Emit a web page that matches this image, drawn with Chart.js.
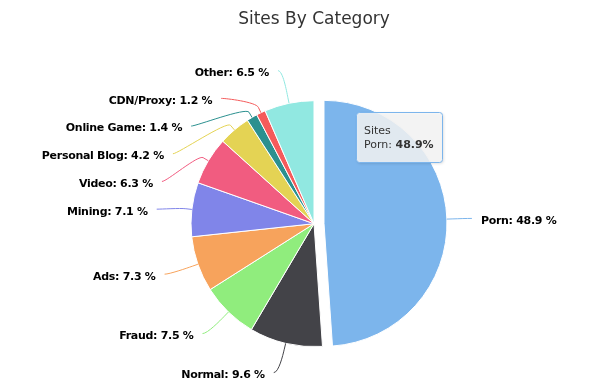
<!DOCTYPE html>
<html>
<head>
<meta charset="utf-8">
<script src="https://cdn.jsdelivr.net/npm/chart.js@4.4.1/dist/chart.umd.min.js"></script>
<style>
  html, body { margin: 0; padding: 0; background: #fff; }
  #wrap { width: 602px; height: 392px; }
</style>
</head>
<body>
<div id="wrap"><canvas id="pieChart" width="602" height="392"></canvas></div>
<script>
const categories = ['Porn', 'Normal', 'Fraud', 'Ads', 'Mining', 'Video', 'Personal Blog', 'Online Game', 'CDN/Proxy', 'Other'];
const shares = [48.9, 9.6, 7.5, 7.3, 7.1, 6.3, 4.2, 1.4, 1.2, 6.5];
const sliceColors = ['#7cb5ec', '#434348', '#90ed7d', '#f7a35c', '#8085e9', '#f15c80', '#e4d354', '#2b908f', '#f45b5b', '#91e8e1'];
const seriesName = 'Sites';
const slicedIndex = 0;   // slice pulled out of the pie (and shown in the tooltip)
const slicedOffset = 10;

// pull one slice outwards without making it bigger (Chart.js "offset" also grows the radius)
const slicePlugin = {
    id: 'slicePlugin',
    beforeDatasetsDraw(chart) {
        const arc = chart.getDatasetMeta(0).data[slicedIndex];
        if (!arc || arc._sliced) return;
        const origDraw = arc.draw.bind(arc);
        arc.draw = function (ctx) {
            const a = (this.startAngle + this.endAngle) / 2;
            ctx.save();
            ctx.translate(Math.cos(a) * slicedOffset, Math.sin(a) * slicedOffset);
            origDraw(ctx);
            ctx.restore();
        };
        arc._sliced = true;
    }
};

// spread labels of one side so they don't overlap: overlapping ones are merged
// into a block centred between its first and last natural position, kept inside [top, bottom]
function spread(group, gap, top, bottom) {
    let boxes = group.map(it => ({ targets: [it.ny], items: [it] }));
    const place = b => {
        const size = b.items.length * gap;
        const mid = (Math.min(...b.targets) + Math.max(...b.targets)) / 2;
        b.pos = Math.min(Math.max(mid - size / 2, top), bottom - size);
    };
    boxes.forEach(place);
    let merged = true;
    while (merged) {
        merged = false;
        for (let i = boxes.length - 1; i > 0; i--) {
            const prev = boxes[i - 1], box = boxes[i];
            if (prev.pos + prev.items.length * gap > box.pos) {
                prev.targets = prev.targets.concat(box.targets);
                prev.items = prev.items.concat(box.items);
                place(prev);
                boxes.splice(i, 1);
                merged = true;
            }
        }
    }
    boxes.forEach(b => b.items.forEach((it, k) => { it.y = b.pos + gap * (k + 0.5); }));
}

// outside labels with soft connectors
const labelPlugin = {
    id: 'labelPlugin',
    afterDatasetsDraw(chart) {
        const ctx = chart.ctx;
        const arcs = chart.getDatasetMeta(0).data;
        const dist = 30, pad = 5, gap = 27.7;

        const items = arcs.map((arc, i) => {
            const a = (arc.startAngle + arc.endAngle) / 2;
            const R = arc.outerRadius + dist;
            return {
                i, arc, a, R,
                left: Math.cos(a) < 0,
                nx: arc.x + R * Math.cos(a),
                ny: arc.y + R * Math.sin(a)
            };
        });

        [true, false].forEach(side => {
            spread(items.filter(it => it.left === side).sort((p, q) => p.ny - q.ny),
                gap, chart.chartArea.top, chart.height);
        });

        ctx.save();
        items.forEach(it => {
            const { arc, a, R, left } = it;
            const dy = it.y - arc.y;
            const gx = Math.abs(dy) < R ? Math.sqrt(R * R - dy * dy) : 0;
            const x = left ? Math.min(arc.x - gx, it.nx) : Math.max(arc.x + gx, it.nx);
            const ax = left ? x - pad : x + pad;

            const t = it.i === slicedIndex ? slicedOffset : 0;
            const ox = arc.x + Math.cos(a) * t, oy = arc.y + Math.sin(a) * t;
            const r = arc.outerRadius;
            const touchX = ox + r * Math.cos(a), touchY = oy + r * Math.sin(a);
            const brX = ox + (r + 6) * Math.cos(a), brY = oy + (r + 6) * Math.sin(a);

            ctx.beginPath();
            ctx.moveTo(ax, it.y);
            ctx.bezierCurveTo(ax + (left ? 5 : -5), it.y, 2 * brX - touchX, 2 * brY - touchY, brX, brY);
            ctx.lineTo(touchX, touchY);
            ctx.strokeStyle = sliceColors[it.i];
            ctx.lineWidth = 1;
            ctx.stroke();

            ctx.font = 'bold 11px "DejaVu Sans"';
            ctx.letterSpacing = '-0.3px';
            ctx.fillStyle = '#000';
            ctx.textBaseline = 'middle';
            ctx.textAlign = left ? 'right' : 'left';
            ctx.fillText(categories[it.i] + ': ' + shares[it.i] + ' %', left ? ax - 9 : ax + 9, it.y + 2.5);
        });
        ctx.restore();
    }
};

// pinned tooltip for the sliced point
const tipPlugin = {
    id: 'tipPlugin',
    afterDraw(chart) {
        const ctx = chart.ctx;
        const arc = chart.getDatasetMeta(0).data[slicedIndex];
        const label = categories[slicedIndex] + ': ';
        const value = shares[slicedIndex].toFixed(1) + '%';

        ctx.save();
        ctx.letterSpacing = '0px';
        ctx.font = '11px "DejaVu Sans"';
        const w1 = ctx.measureText(label).width;
        const w0 = ctx.measureText(seriesName).width;
        ctx.font = 'bold 11px "DejaVu Sans"';
        const w2 = ctx.measureText(value).width;
        const boxW = Math.round(Math.max(w0, w1 + w2) + 16);
        const boxH = 50;
        const bx = Math.round(arc.x + 42) + 0.5;
        const by = Math.round(arc.y - arc.outerRadius + 11) + 0.5;

        ctx.shadowColor = 'rgba(0,0,0,0.18)';
        ctx.shadowOffsetX = 1;
        ctx.shadowOffsetY = 1;
        ctx.shadowBlur = 3;
        ctx.beginPath();
        ctx.roundRect(bx, by, boxW, boxH, 3);
        ctx.fillStyle = 'rgba(247,247,247,0.85)';
        ctx.fill();
        ctx.shadowColor = 'transparent';
        ctx.strokeStyle = sliceColors[slicedIndex];
        ctx.lineWidth = 1;
        ctx.stroke();

        ctx.fillStyle = '#333333';
        ctx.textBaseline = 'alphabetic';
        ctx.textAlign = 'left';
        ctx.font = '11px "DejaVu Sans"';
        ctx.fillText(seriesName, bx + 7.5, by + 21);
        ctx.fillText(label, bx + 7.5, by + 35);
        ctx.font = 'bold 11px "DejaVu Sans"';
        ctx.fillText(value, bx + 7.5 + w1, by + 35);
        ctx.restore();
    }
};

const ctx = document.getElementById('pieChart').getContext('2d');
new Chart(ctx, {
    type: 'pie',
    data: {
        labels: categories,
        datasets: [{
            label: seriesName,
            data: shares,
            backgroundColor: sliceColors,
            borderColor: '#ffffff',
            borderWidth: 1
        }]
    },
    options: {
        responsive: false,
        animation: false,
        radius: 123,
        layout: { padding: { left: 26, right: 0, top: 0, bottom: 0 } },
        plugins: {
            legend: { display: false },
            tooltip: { enabled: false },
            title: {
                display: true,
                text: 'Sites By Category',
                color: '#333333',
                font: { family: '"DejaVu Sans"', size: 17, weight: 'normal' },
                padding: { top: 9, bottom: 26 }
            }
        },
        events: []
    },
    plugins: [slicePlugin, labelPlugin, tipPlugin]
});
</script>
</body>
</html>
